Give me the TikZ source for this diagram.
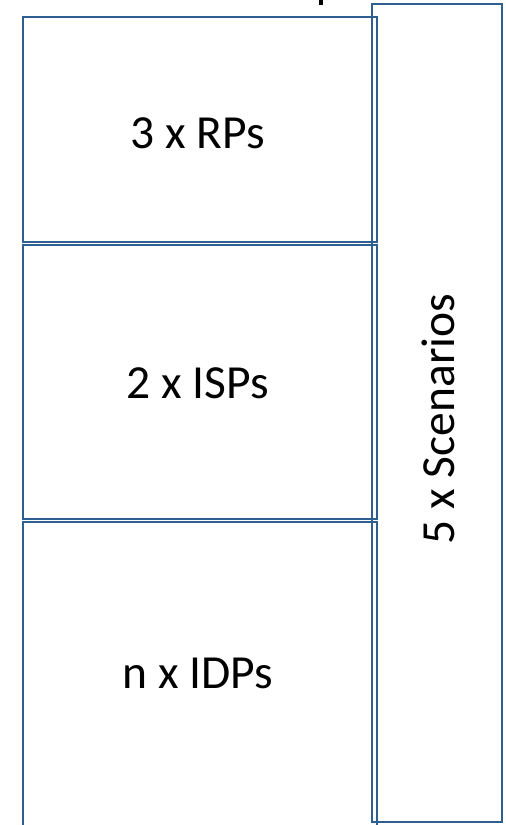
\documentclass[tikz,border=0pt]{standalone}
\usepackage{fontspec}
\setmainfont{Carlito}
\definecolor{boxline}{HTML}{2F5E91}
\tikzset{
  panel/.style={draw=boxline, line width=2.4pt},
  label/.style={font=\fontsize{47.5}{56}\selectfont, inner sep=0pt, anchor=base}
}
\begin{document}
\begin{tikzpicture}[x=1pt, y=-1pt]
  \useasboundingbox (0,0) rectangle (506,825);
  \clip (0,0) rectangle (506,825);
  % tail of a heading that sits above the frame
  \fill[black] (319,-1) rectangle (323,5);
  % scenario column on the right
  \draw[panel] (372,4) rectangle (502,822);
  % three stacked provider panels
  \draw[panel] (23,17) rectangle (377,242);
  \draw[panel] (23,245) rectangle (377,519);
  \draw[panel] (23,522) rectangle (377,840);
  % panel captions
  \node[label] (rp)  at (198,148) {3 x RPs};
  \node[label] (isp) at (198,398) {2 x ISPs};
  \node[label] (idp) at (198,688) {n x IDPs};
  \node[label, rotate=90] (scen) at (454,419) {5 x Scenarios};
\end{tikzpicture}
\end{document}
